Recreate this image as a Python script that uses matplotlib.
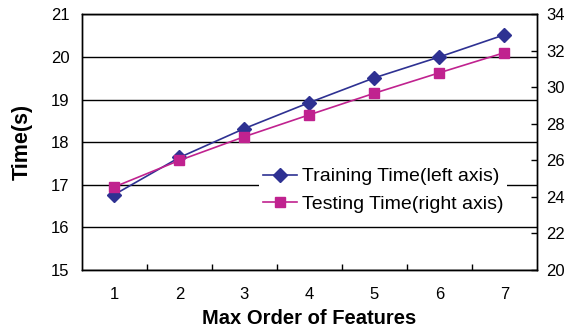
import matplotlib.pyplot as plt
import numpy as np

plt.rcParams['font.family'] = ['Liberation Sans', 'DejaVu Sans']

orders = [1, 2, 3, 4, 5, 6, 7]
train_time = [16.77, 17.64, 18.32, 18.93, 19.51, 20.0, 20.52]   # left axis
test_time = [24.55, 26.0, 27.3, 28.5, 29.68, 30.8, 31.9]        # right axis

blue = '#2e3192'
magenta = '#c0228f'

fig, ax = plt.subplots(figsize=(5.73, 3.26), dpi=100)
fig.subplots_adjust(left=0.143, right=0.937, top=0.956, bottom=0.172)

ax2 = ax.twinx()

l1, = ax.plot(orders, train_time, '-D', color=blue, lw=1.2, ms=7,
              label='Training Time(left axis)')
l2, = ax2.plot(orders, test_time, '-s', color=magenta, lw=1.2, ms=7.5,
               label='Testing Time(right axis)')

ax.set_xlim(0.5, 7.5)
ax.set_ylim(15, 21)
ax2.set_ylim(20, 34)
ax.set_yticks(np.arange(15, 22, 1))
ax2.set_yticks(np.arange(20, 35, 2))
ax.set_xticks(orders)
ax.set_xticks(np.arange(1.5, 7, 1), minor=True)

ax.yaxis.grid(True, color='black', lw=1)
ax.set_axisbelow(True)

ax.tick_params(axis='x', which='major', length=0, labelsize=12, pad=12)
ax.tick_params(axis='x', which='minor', direction='in', length=4, width=1)
ax.tick_params(axis='y', length=0, labelsize=12, pad=9)
ax2.tick_params(axis='y', direction='in', length=4, width=1, labelsize=12, pad=7)

for a in (ax, ax2):
    for s in a.spines.values():
        s.set_color('black')
        s.set_linewidth(1)

ax.set_xlabel('Max Order of Features', fontsize=14.5, fontweight='bold', labelpad=5)
ax.set_ylabel('Time(s)', fontsize=15.5, fontweight='bold', labelpad=13)

leg = ax2.legend(handles=[l1, l2], loc='upper left', bbox_to_anchor=(0.389, 0.415),
                 fontsize=14, frameon=True, facecolor='white', edgecolor='none',
                 framealpha=1, fancybox=False, handlelength=1.75, handletextpad=0.27,
                 borderpad=0.2, borderaxespad=0, labelspacing=0.5)

plt.savefig('out.png', dpi=100)
